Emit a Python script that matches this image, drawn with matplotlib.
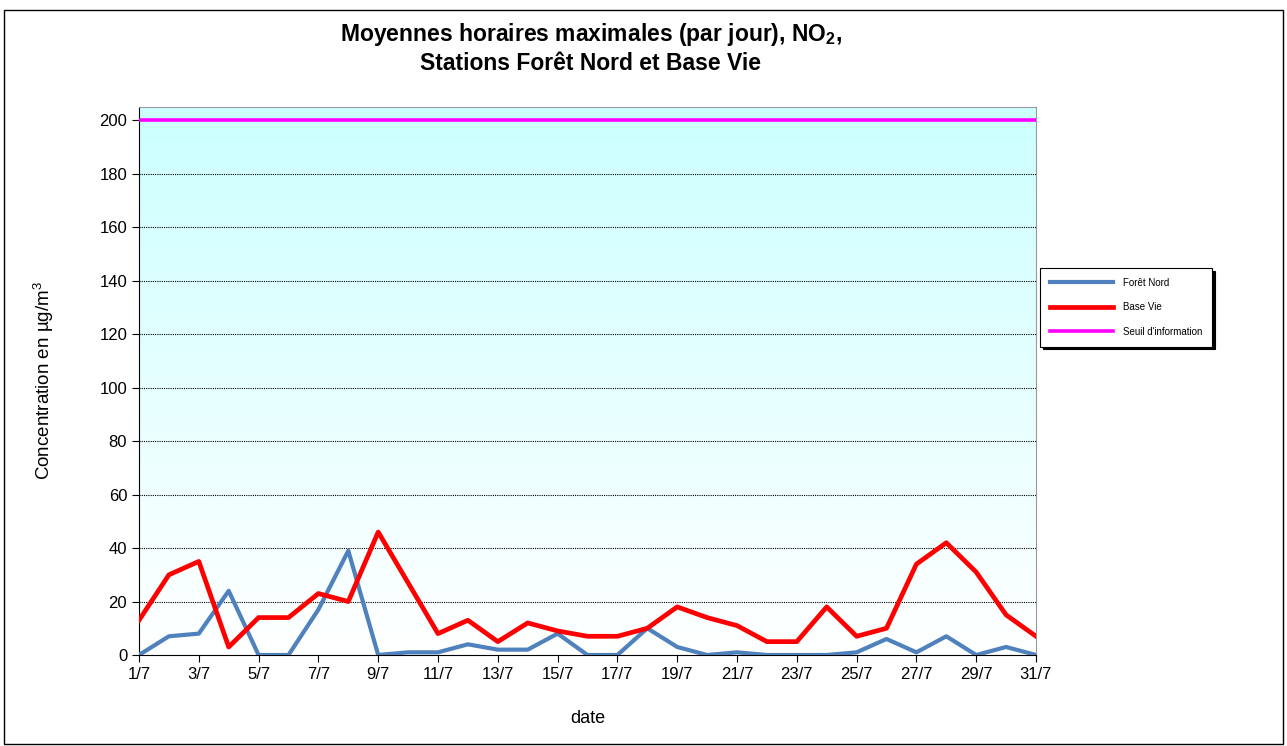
import matplotlib.pyplot as plt
import numpy as np
from matplotlib.patches import Rectangle

plt.rcParams['font.family'] = ['Liberation Sans', 'DejaVu Sans']
plt.rcParams['mathtext.fontset'] = 'custom'
plt.rcParams['mathtext.rm'] = 'Liberation Sans'
plt.rcParams['mathtext.bf'] = 'Liberation Sans:bold'

days = list(range(1, 32))
foret_nord = [0, 7, 8, 24, 0, 0, 17, 39, 0, 1, 1, 4, 2, 2, 8, 0, 0, 10, 3, 0,
              1, 0, 0, 0, 1, 6, 1, 7, 0, 3, 0]
base_vie = [13, 30, 35, 3, 14, 14, 23, 20, 46, 27, 8, 13, 5, 12, 9, 7, 7, 10, 18, 14,
            11, 5, 5, 18, 7, 10, 34, 42, 31, 15, 7]
seuil = [200] * 31
xlabels = ["%d/7" % d for d in range(1, 32, 2)]

fig = plt.figure(figsize=(12.87, 7.46), dpi=100)
ax = fig.add_axes([139/1287, 1 - 655/746, (1036-139)/1287, (655-107)/746])

# background gradient (cyan at top -> white at bottom)
grad = np.linspace(0, 1, 256).reshape(-1, 1)
top = np.array([0.80, 1.0, 1.0])
bot = np.array([1.0, 1.0, 1.0])
img = bot + (top - bot) * grad
ax.imshow(img.reshape(256, 1, 3), extent=[1, 31, 0, 205], origin='lower',
          aspect='auto', zorder=0)

for v in range(20, 201, 20):
    ax.axhline(v, color='black', lw=0.8, ls=(0, (1, 1)), zorder=1)

ax.plot(days, foret_nord, color='#4f81bd', lw=3.0, label='Forêt Nord', zorder=3)
ax.plot(days, base_vie, color='#ff0000', lw=3.4, label='Base Vie', zorder=3)
ax.plot(days, seuil, color='#ff00ff', lw=2.6, label="Seuil d'information", zorder=4)

ax.set_xlim(1, 31)
ax.set_ylim(0, 205)
ax.set_yticks(range(0, 201, 20))
ax.set_xticks(range(1, 32, 2))
ax.set_xticklabels(xlabels)
ax.tick_params(direction='out', length=5, labelsize=12, width=0.8)
for s in ['left', 'bottom']:
    ax.spines[s].set_color('black')
for s in ['top', 'right']:
    ax.spines[s].set_color('#999999')
ax.set_xlabel('date', fontsize=13, labelpad=20)
ax.set_ylabel('Concentration en µg/m$^3$', fontsize=13.5, labelpad=31)

fig.text(591/1287, 1 - 35/746, r'Moyennes horaires maximales (par jour), NO$_\mathbf{2}$,',
         ha='center', va='center', fontsize=16.5, fontweight='bold')
fig.text(591/1287, 1 - 63/746, 'Stations Forêt Nord et Base Vie',
         ha='center', va='center', fontsize=16.5, fontweight='bold')

leg = fig.legend(loc='upper left', bbox_to_anchor=(1040/1287, 1 - 268/746), fontsize=7,
                 fancybox=False, shadow={'color': 'black', 'alpha': 1}, framealpha=1,
                 edgecolor='black', handlelength=6.5, labelspacing=1.5,
                 borderpad=1.0, handletextpad=1.0, borderaxespad=0)
leg.get_frame().set_linewidth(0.8)

fig.patches.append(Rectangle((4/1287, 0.003), 1 - 8/1287, 1 - 12/746, transform=fig.transFigure,
                             fill=False, edgecolor='black', lw=1))

fig.savefig('out.png', dpi=100)
